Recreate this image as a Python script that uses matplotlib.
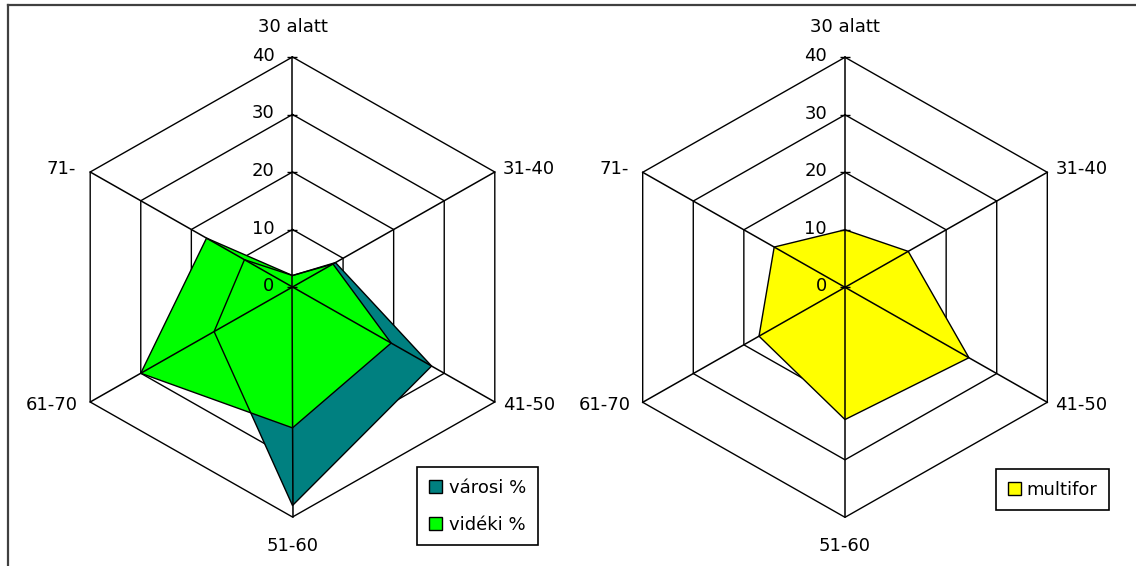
import numpy as np
import matplotlib.pyplot as plt
from matplotlib.lines import Line2D
from matplotlib.patches import Patch

categories = ["30 alatt", "31-40", "41-50", "51-60", "61-70", "71-"]
ring_levels = [0, 10, 20, 30, 40]

# left chart
varosi = [2, 8.5, 27.5, 38, 15.5, 9.5]
videki = [2, 8, 19.5, 24.5, 30, 17]
# right chart
multifor = [10, 12.5, 24.5, 23, 17, 14]

TEAL = "#008080"
GREEN = "#00FF00"
YELLOW = "#FFFF00"

W, H = 1136, 566
plt.rcParams["font.family"] = "DejaVu Sans"
plt.rcParams["font.size"] = 13

angles = np.deg2rad(np.arange(len(categories)) * 360.0 / len(categories))


def to_xy(values):
    v = np.asarray(values, dtype=float)
    x = v * np.sin(angles)
    y = v * np.cos(angles)
    return np.append(x, x[0]), np.append(y, y[0])


def make_axes(fig, cx, cy):
    # cx, cy: centre of the radar in pixels (from top-left)
    hx = 45 * 5.84
    hy = 45 * 5.75
    ax = fig.add_axes([(cx - hx) / W, (H - cy - hy) / H, 2 * hx / W, 2 * hy / H])
    ax.set_xlim(-45, 45)
    ax.set_ylim(-45, 45)
    ax.axis("off")
    return ax


def draw_radar(ax, series):
    top = ring_levels[-1]
    for lvl in ring_levels[1:]:
        x, y = to_xy([lvl] * len(categories))
        ax.plot(x, y, color="black", lw=1.0, zorder=1)

    for values, color, name in series:
        x, y = to_xy(values)
        ax.fill(x, y, color=color, lw=0, zorder=2)
    for values, color, name in series:
        x, y = to_xy(values)
        ax.plot(x, y, color="black", lw=1.0, zorder=3)

    ox, oy = to_xy([top] * len(categories))
    for i in range(len(categories)):
        ax.plot([0, ox[i]], [0, oy[i]], color="black", lw=1.1, zorder=4)

    ax.plot([0] * len(ring_levels), ring_levels, ls="none", marker="_",
            ms=7, mew=1.0, color="black", zorder=5)
    for lvl in ring_levels:
        ax.annotate(str(lvl), xy=(0, lvl), xytext=(-18, 1),
                    textcoords="offset pixels", ha="right", va="center",
                    fontsize=13)

    offsets = [(0, 30, "center"), (8, 3, "left"), (8, -3, "left"),
               (0, -29, "center"), (-12, -3, "right"), (-14, 3, "right")]
    for i, cat in enumerate(categories):
        dx, dy, ha = offsets[i]
        ax.annotate(cat, xy=(ox[i], oy[i]), xytext=(dx, dy),
                    textcoords="offset pixels", ha=ha, va="center",
                    fontsize=13, annotation_clip=False)


fig = plt.figure(figsize=(W / 100, H / 100), dpi=100)

ax1 = make_axes(fig, 292.5, 287)
draw_radar(ax1, [(varosi, TEAL, "városi %"), (videki, GREEN, "vidéki %")])

ax2 = make_axes(fig, 845, 287.3)
draw_radar(ax2, [(multifor, YELLOW, "multifor")])

leg_kw = dict(loc="upper left", bbox_transform=fig.transFigure, frameon=True,
              fancybox=False, framealpha=1, edgecolor="black",
              borderaxespad=0, handlelength=0.72, handleheight=0.72,
              borderpad=0.65, fontsize=13)

h1 = [Patch(facecolor=TEAL, edgecolor="black", lw=1.0, label="városi %"),
      Patch(facecolor=GREEN, edgecolor="black", lw=1.0, label="vidéki %")]
lg1 = ax1.legend(handles=h1, bbox_to_anchor=(417 / W, 1 - 467 / H),
                 labelspacing=1.05, handletextpad=0.4, **leg_kw)
lg1.get_frame().set_linewidth(1.2)

h2 = [Patch(facecolor=YELLOW, edgecolor="black", lw=1.0, label="multifor")]
lg2 = ax2.legend(handles=h2, bbox_to_anchor=(996 / W, 1 - 469 / H),
                 handletextpad=0.3, **leg_kw)
lg2.get_frame().set_linewidth(1.2)

# outer chart frame (only top and left edges are visible in the crop)
fig.add_artist(Line2D([8 / W, 8 / W], [0, 1 - 4.5 / H], transform=fig.transFigure,
                      color="#404040", lw=1.6))
fig.add_artist(Line2D([8 / W, 1], [1 - 4.5 / H, 1 - 4.5 / H],
                      transform=fig.transFigure, color="#404040", lw=1.6))

fig.savefig("out.png", dpi=100)
